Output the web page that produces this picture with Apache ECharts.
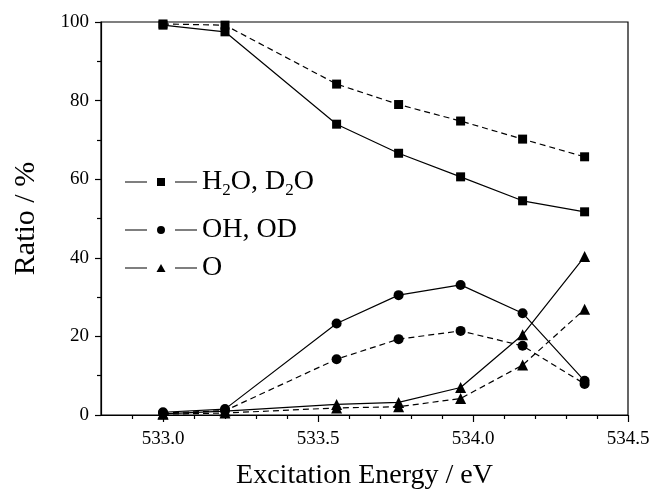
<!DOCTYPE html>
<html>
<head>
<meta charset="utf-8">
<script src="https://cdn.jsdelivr.net/npm/echarts@6/dist/echarts.min.js"></script>
<style>
  html, body { margin: 0; padding: 0; background: #fff; }
  #chart { width: 653px; height: 494px; }
</style>
</head>
<body>
<div id="chart"></div>
<script>
// Excitation energies (eV) of the measured points
const energies = [533.0, 533.2, 533.56, 533.76, 533.96, 534.16, 534.36];

// Fragment ratios (%) – solid and dashed curves for each species
const h2oSolid  = [99.2, 97.5, 74.0, 66.6, 60.6, 54.5, 51.7];
const h2oDashed = [99.5, 99.2, 84.2, 79.0, 74.8, 70.2, 65.7];
const ohSolid   = [0.7, 1.5, 23.3, 30.5, 33.1, 25.9, 8.7];
const ohDashed  = [0.5, 1.1, 14.2, 19.3, 21.4, 17.6, 7.9];
const oSolid    = [0.3, 1.0, 2.7, 3.2, 7.0, 20.4, 40.3];
const oDashed   = [0.2, 0.5, 1.8, 2.1, 4.2, 12.7, 26.9];

// Axis ticks
const xMajorTicks = [533.0, 533.5, 534.0, 534.5];
const xMinorTicks = [532.9, 533.1, 533.2, 533.3, 533.4, 533.6, 533.7, 533.8, 533.9, 534.1, 534.2, 534.3, 534.4];
const legendNames = ['H2O, D2O', 'OH, OD', 'O'];

const FONT = '"Liberation Serif", "Times New Roman", serif';
const INK = '#000';

function pairs(ys) {
  return energies.map((x, i) => [x, ys[i]]);
}

// Legend glyphs: short line, marker, short line
const iconSquare = 'path://M0,3.4h22v1.2h-22z M32,0h8v8h-8z M50,3.4h22v1.2h-22z';
const iconCircle = 'path://M0,3.4h22v1.2h-22z M32,4a4,4 0 1,0 8,0a4,4 0 1,0 -8,0z M50,3.4h22v1.2h-22z';
const iconTri    = 'path://M0,3.4h22v1.2h-22z M36,0L40.5,8L31.5,8z M50,3.4h22v1.2h-22z';

function makeSeries(name, ys, symbol, size, dashed) {
  return {
    name: name,
    type: 'line',
    data: pairs(ys),
    symbol: symbol,
    symbolSize: size,
    showSymbol: true,
    color: INK,
    itemStyle: { color: INK },
    lineStyle: { color: INK, width: 1.2, type: dashed ? [6, 4] : 'solid' },
    emphasis: { disabled: true },
    animation: false
  };
}

const legendText = {
  color: INK,
  fontFamily: FONT,
  fontSize: 28,
  rich: {
    n: { fontFamily: FONT, fontSize: 28, lineHeight: 34, color: INK },
    s: { fontFamily: FONT, fontSize: 17, lineHeight: 17, verticalAlign: 'bottom', color: INK }
  }
};

function makeLegend(name, icon, top) {
  return {
    data: [{ name: name, icon: icon }],
    left: 120,
    top: top,
    itemWidth: 72,
    itemHeight: 8,
    selectedMode: false,
    formatter: function (n) {
      if (n === 'H2O, D2O') return '{n|H}{s|2}{n|O, D}{s|2}{n|O}';
      return '{n|' + n + '}';
    },
    textStyle: legendText
  };
}

const chart = echarts.init(document.getElementById('chart'), null, { renderer: 'canvas' });

chart.setOption({
  backgroundColor: '#fff',
  animation: false,
  grid: {
    left: 101, right: 25, top: 22, bottom: 79,
    outerBoundsMode: 'none',
    containLabel: false,
    show: true, borderColor: INK, borderWidth: 1.2, backgroundColor: 'transparent'
  },
  legend: [
    makeLegend(legendNames[0], iconSquare, 163),
    makeLegend(legendNames[1], iconCircle, 211),
    makeLegend(legendNames[2], iconTri, 249)
  ],
  xAxis: [
    {
      type: 'value',
      min: 532.8, max: 534.5,
      name: 'Excitation Energy / eV',
      nameLocation: 'middle',
      nameGap: 47,
      nameTextStyle: { fontFamily: FONT, fontSize: 28, color: INK },
      axisLine: { show: true, lineStyle: { color: INK, width: 1.2 } },
      axisTick: { show: true, inside: false, length: 7, customValues: xMajorTicks, lineStyle: { color: INK, width: 1.2 } },
      axisLabel: {
        show: true, margin: 15, customValues: xMajorTicks,
        fontFamily: FONT, fontSize: 19, color: INK,
        formatter: v => Number(v).toFixed(1)
      },
      splitLine: { show: false }
    },
    {
      type: 'value',
      min: 532.8, max: 534.5,
      position: 'bottom',
      axisLine: { show: false },
      axisTick: { show: true, inside: false, length: 4, customValues: xMinorTicks, lineStyle: { color: INK, width: 1.2 } },
      axisLabel: { show: false },
      splitLine: { show: false }
    }
  ],
  yAxis: {
    type: 'value',
    min: 0, max: 100, interval: 20,
    name: 'Ratio / %',
    nameLocation: 'middle',
    nameGap: 60,
    nameTextStyle: { fontFamily: FONT, fontSize: 30, color: INK },
    axisLine: { show: true, lineStyle: { color: INK, width: 1.2 } },
    axisTick: { show: true, inside: false, length: 6, lineStyle: { color: INK, width: 1.2 } },
    minorTick: { show: true, splitNumber: 2, length: 4, lineStyle: { color: INK, width: 1.2 } },
    axisLabel: { margin: 12, fontFamily: FONT, fontSize: 19, color: INK },
    splitLine: { show: false }
  },
  series: [
    makeSeries(legendNames[0], h2oSolid, 'rect', 9, false),
    makeSeries('H2O, D2O dashed', h2oDashed, 'rect', 9, true),
    makeSeries(legendNames[1], ohSolid, 'circle', 10, false),
    makeSeries('OH, OD dashed', ohDashed, 'circle', 10, true),
    makeSeries(legendNames[2], oSolid, 'triangle', 11, false),
    makeSeries('O dashed', oDashed, 'triangle', 11, true)
  ]
});
</script>
</body>
</html>
